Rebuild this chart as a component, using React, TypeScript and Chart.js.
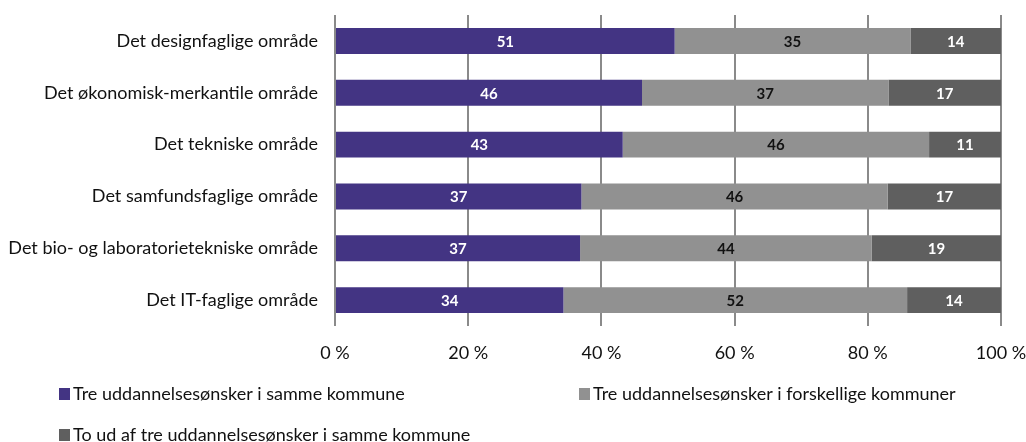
import React, { useEffect, useRef } from "react";
import { Chart, registerables } from "chart.js";

Chart.register(...registerables);

const categories = [
  "Det designfaglige område",
  "Det økonomisk-merkantile område",
  "Det tekniske område",
  "Det samfundsfaglige område",
  "Det bio- og laboratorietekniske område",
  "Det IT-faglige område",
];
const seriesNames = [
  "Tre uddannelsesønsker i samme kommune",
  "Tre uddannelsesønsker i forskellige kommuner",
  "To ud af tre uddannelsesønsker i samme kommune",
];
const sameMunicipality = [51.0, 46.1, 43.2, 37.0, 36.8, 34.3];
const differentMunicipalities = [35.4, 37.0, 46.0, 46.0, 43.8, 51.6];
const twoOfThree = [13.6, 16.9, 10.8, 17.0, 19.4, 14.1];
const xTicks = [0, 20, 40, 60, 80, 100];

const colors = ["#433483", "#919191", "#5f5f5f"];
const labelColors = ["#ffffff", "#111111", "#ffffff"];
const FONT = "Lato, 'Noto Sans', sans-serif";

export default function App() {
  const ref = useRef<HTMLCanvasElement | null>(null);
  useEffect(() => {
    if (!ref.current) return;
    const seriesData = [sameMunicipality, differentMunicipalities, twoOfThree];

    const valueLabels = {
      id: "valueLabels",
      afterDatasetsDraw(chart: any) {
        const ctx = chart.ctx;
        ctx.save();
        ctx.font = `bold 15px ${FONT}`;
        ctx.textAlign = "center";
        ctx.textBaseline = "middle";
        chart.data.datasets.forEach((ds: any, di: number) => {
          const meta = chart.getDatasetMeta(di);
          meta.data.forEach((bar: any, i: number) => {
            const cx = (bar.x + bar.base) / 2;
            ctx.fillStyle = labelColors[di];
            ctx.fillText(String(Math.round(ds.data[i])), cx, bar.y + 1);
          });
        });
        ctx.restore();
      },
    };

    const customLegend = {
      id: "customLegend",
      afterDraw(chart: any) {
        const ctx = chart.ctx;
        ctx.save();
        ctx.font = `18px ${FONT}`;
        ctx.textBaseline = "middle";
        ctx.textAlign = "left";
        const pos = [
          { x: 59, y: 394 },
          { x: 579, y: 394 },
          { x: 59, y: 435 },
        ];
        chart.data.datasets.forEach((ds: any, di: number) => {
          const p = pos[di];
          ctx.fillStyle = colors[di];
          ctx.fillRect(p.x, p.y - 6, 11, 12);
          ctx.fillStyle = "#111111";
          ctx.fillText(ds.label, p.x + 14, p.y);
        });
        ctx.restore();
      },
    };

    const chart = new Chart(ref.current, {
      type: "bar",
      data: {
        labels: categories,
        datasets: seriesData.map((d, i) => ({
          label: seriesNames[i],
          data: d,
          backgroundColor: colors[i],
          borderWidth: 0,
          barPercentage: 0.5,
          categoryPercentage: 1.0,
        })),
      },
      options: {
        indexAxis: "y",
        animation: false,
        responsive: false,
        maintainAspectRatio: false,
        layout: { padding: { top: 15, right: 25, left: 0, bottom: 0 } },
        plugins: {
          legend: { display: false },
          tooltip: { enabled: false },
        },
        scales: {
          x: {
            stacked: true,
            min: 0,
            max: 100,
            afterBuildTicks(scale: any) {
              scale.ticks = xTicks.map((v) => ({ value: v }));
            },
            afterFit(scale: any) {
              scale.height = 116;
              scale.paddingLeft = 0;
              scale.paddingRight = 0;
            },
            grid: { color: "#8a8a8a", lineWidth: 2, drawTicks: false },
            border: { display: false },
            ticks: {
              padding: 16,
              color: "#111111",
              font: { family: FONT, size: 18 },
              callback: (v: any) => `${v} %`,
              maxRotation: 0,
            },
          },
          y: {
            stacked: true,
            afterFit(scale: any) {
              scale.width = 335;
              scale.paddingTop = 0;
              scale.paddingBottom = 0;
            },
            grid: { display: false, drawTicks: false },
            border: { display: false },
            ticks: {
              padding: 17,
              color: "#111111",
              font: { family: FONT, size: 18 },
            },
          },
        },
      },
      plugins: [valueLabels, customLegend],
    });
    return () => chart.destroy();
  }, []);

  return (
    <div style={{ position: "absolute", left: 0, top: 0, width: 1026, height: 442, background: "#ffffff" }}>
      <canvas ref={ref} width={1026} height={442} style={{ display: "block", width: 1026, height: 442 }} />
    </div>
  );
}
